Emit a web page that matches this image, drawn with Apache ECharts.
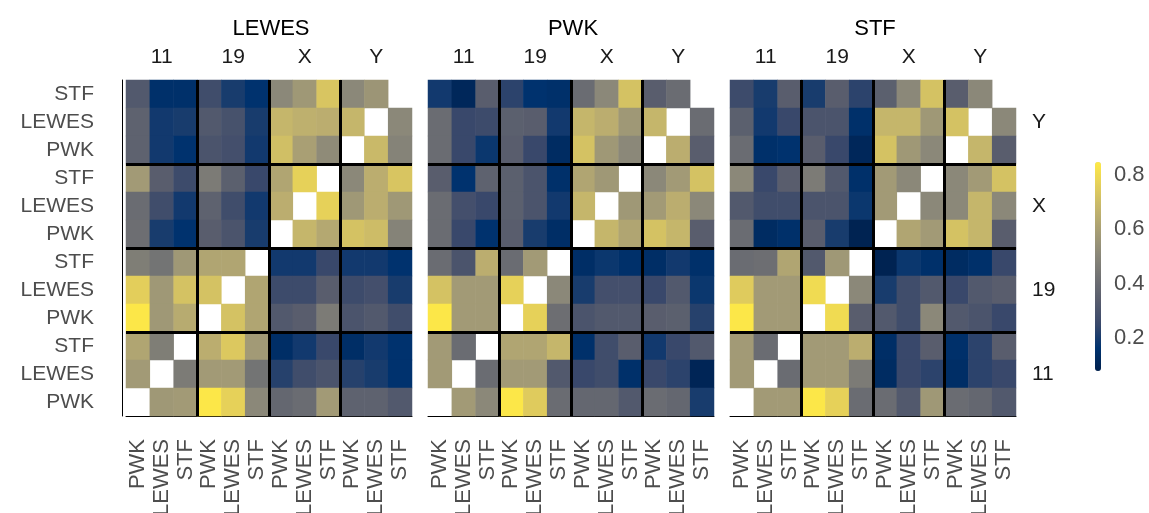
<!DOCTYPE html>
<html>
<head>
<meta charset="utf-8">
<title>Correlation heatmaps</title>
<script src="https://cdn.jsdelivr.net/npm/echarts@6/dist/echarts.min.js"></script>
<style>
  html, body { margin: 0; background: #ffffff; }
  #chart { width: 1149px; height: 513px; }
</style>
</head>
<body>
<div id="chart"></div>
<script>
const sites = ['PWK', 'LEWES', 'STF']
const groups = ['11', '19', 'X', 'Y']
const facets = ['LEWES', 'PWK', 'STF']
const colorTicks = [0.2, 0.4, 0.6, 0.8]
const cividis = ['#00204D', '#00336F', '#39486B', '#575C6D', '#707173',
    '#8A8779', '#A69D75', '#C4B56C', '#E4CF5B', '#FFEA46']

// rows top -> bottom (Y STF ... 11 PWK), columns left -> right (11 PWK ... Y STF)
const lewesRows = [
    [0.32, 0.15, 0.15, 0.27, 0.20, 0.16, 0.51, 0.57, 0.73, 0.51, 0.56, null],
    [0.36, 0.19, 0.20, 0.32, 0.29, 0.20, 0.68, 0.66, 0.65, 0.68, null, 0.51],
    [0.36, 0.19, 0.16, 0.30, 0.28, 0.19, 0.71, 0.60, 0.52, null, 0.69, 0.49],
    [0.58, 0.34, 0.26, 0.46, 0.35, 0.25, 0.62, 0.77, null, 0.51, 0.65, 0.73],
    [0.40, 0.27, 0.19, 0.36, 0.27, 0.19, 0.65, null, 0.77, 0.57, 0.65, 0.57],
    [0.41, 0.20, 0.16, 0.34, 0.30, 0.20, null, 0.68, 0.63, 0.72, 0.70, 0.49],
    [0.47, 0.43, 0.57, 0.62, 0.62, null, 0.19, 0.19, 0.25, 0.19, 0.19, 0.16],
    [0.76, 0.57, 0.72, 0.72, null, 0.62, 0.26, 0.26, 0.34, 0.26, 0.28, 0.20],
    [0.84, 0.57, 0.64, null, 0.72, 0.62, 0.32, 0.34, 0.46, 0.30, 0.32, 0.27],
    [0.62, 0.47, null, 0.65, 0.74, 0.58, 0.14, 0.19, 0.25, 0.14, 0.19, 0.16],
    [0.58, null, 0.46, 0.58, 0.58, 0.43, 0.22, 0.27, 0.30, 0.22, 0.20, 0.16],
    [null, 0.57, 0.58, 0.84, 0.77, 0.51, 0.38, 0.40, 0.58, 0.36, 0.36, 0.32]
]
const pwkRows = [
    [0.19, 0.11, 0.34, 0.23, 0.16, 0.15, 0.40, 0.51, 0.72, 0.34, 0.40, null],
    [0.40, 0.25, 0.26, 0.35, 0.34, 0.19, 0.68, 0.65, 0.57, 0.68, null, 0.40],
    [0.40, 0.25, 0.18, 0.34, 0.25, 0.13, 0.72, 0.57, 0.51, null, 0.65, 0.34],
    [0.34, 0.16, 0.36, 0.35, 0.30, 0.15, 0.62, 0.57, null, 0.51, 0.58, 0.72],
    [0.40, 0.28, 0.25, 0.35, 0.30, 0.19, 0.68, null, 0.57, 0.58, 0.65, 0.51],
    [0.40, 0.25, 0.16, 0.34, 0.20, 0.14, null, 0.68, 0.62, 0.72, 0.68, 0.34],
    [0.40, 0.30, 0.65, 0.40, 0.58, null, 0.14, 0.18, 0.15, 0.14, 0.19, 0.15],
    [0.72, 0.58, 0.58, 0.77, null, 0.51, 0.20, 0.28, 0.28, 0.25, 0.32, 0.18],
    [0.84, 0.58, 0.58, null, 0.77, 0.41, 0.30, 0.32, 0.32, 0.34, 0.35, 0.22],
    [0.58, 0.40, null, 0.62, 0.62, 0.68, 0.15, 0.27, 0.34, 0.19, 0.25, 0.32],
    [0.58, null, 0.40, 0.58, 0.58, 0.32, 0.25, 0.27, 0.15, 0.25, 0.23, 0.10],
    [null, 0.58, 0.51, 0.84, 0.75, 0.40, 0.38, 0.38, 0.32, 0.40, 0.38, 0.20]
]
const stfRows = [
    [0.26, 0.20, 0.34, 0.20, 0.34, 0.23, 0.35, 0.51, 0.72, 0.34, 0.51, null],
    [0.35, 0.19, 0.25, 0.30, 0.30, 0.15, 0.68, 0.68, 0.57, 0.72, null, 0.51],
    [0.40, 0.15, 0.16, 0.34, 0.25, 0.11, 0.72, 0.57, 0.51, null, 0.68, 0.34],
    [0.51, 0.25, 0.34, 0.46, 0.32, 0.15, 0.58, 0.51, null, 0.51, 0.58, 0.72],
    [0.32, 0.27, 0.27, 0.30, 0.30, 0.18, 0.58, null, 0.51, 0.51, 0.68, 0.51],
    [0.40, 0.13, 0.15, 0.34, 0.20, 0.09, null, 0.62, 0.58, 0.72, 0.68, 0.34],
    [0.40, 0.41, 0.62, 0.32, 0.57, null, 0.09, 0.18, 0.15, 0.13, 0.15, 0.25],
    [0.75, 0.58, 0.58, 0.80, null, 0.51, 0.20, 0.27, 0.32, 0.25, 0.32, 0.34],
    [0.84, 0.58, 0.58, null, 0.80, 0.34, 0.32, 0.27, 0.51, 0.32, 0.30, 0.25],
    [0.58, 0.40, null, 0.58, 0.58, 0.65, 0.14, 0.25, 0.34, 0.15, 0.23, 0.34],
    [0.58, null, 0.40, 0.58, 0.58, 0.46, 0.13, 0.25, 0.23, 0.14, 0.23, 0.25],
    [null, 0.58, 0.58, 0.84, 0.77, 0.40, 0.40, 0.32, 0.57, 0.40, 0.38, 0.32]
]

const panelRows = [lewesRows, pwkRows, stfRows]
// same order left->right on x and bottom->top on y
const cells = groups.flatMap(g => sites.map(s => g + ' ' + s))

const panelLeft = [126, 428, 730]
const panelWidth = 286
const panelTop = 80
const panelHeight = 336
const font = '"Liberation Sans", Arial, sans-serif'

function toHeatData(rows) {
    const out = []
    rows.forEach((row, r) => {
        row.forEach((v, c) => {
            if (v !== null) out.push([c, rows.length - 1 - r, v])
        })
    })
    return out
}

const grid = []
const xAxis = []
const yAxis = []
const series = []
const title = []

panelLeft.forEach((left, i) => {
    grid.push({
        left: left,
        top: panelTop,
        width: panelWidth,
        height: panelHeight,
        outerBoundsMode: 'none'
    })

    title.push({
        text: facets[i],
        left: left + panelWidth / 2 - 3,
        top: 13,
        textAlign: 'center',
        textStyle: { fontSize: 22, fontWeight: 'normal', color: '#000', fontFamily: font }
    })

    // cell axis at the bottom
    xAxis.push({
        type: 'category',
        gridIndex: i,
        data: cells,
        position: 'bottom',
        axisLine: { lineStyle: { color: '#000', width: 1 } },
        axisTick: { alignWithLabel: true, length: 7, lineStyle: { color: '#333' } },
        axisLabel: {
            rotate: 90,
            interval: 0,
            margin: 23,
            fontSize: 22,
            color: '#4d4d4d',
            fontFamily: font,
            formatter: v => v.split(' ')[1]
        },
        splitLine: { show: false }
    })
    // group axis at the top, its split lines are the thick separators
    xAxis.push({
        type: 'category',
        gridIndex: i,
        data: groups,
        position: 'top',
        z: 10,
        axisLine: { show: false },
        axisTick: { show: false },
        axisLabel: { margin: 12, fontSize: 21, color: '#1a1a1a', fontFamily: font },
        splitLine: {
            show: true,
            interval: 0,
            showMinLine: false,
            showMaxLine: false,
            lineStyle: { color: '#000', width: 3 }
        }
    })

    yAxis.push({
        type: 'category',
        gridIndex: i,
        data: cells,
        position: 'left',
        offset: 4,
        show: i === 0,
        axisLine: { lineStyle: { color: '#000', width: 1 } },
        axisTick: { alignWithLabel: true, length: 5, lineStyle: { color: '#333' } },
        axisLabel: {
            interval: 0,
            margin: 28,
            fontSize: 21,
            color: '#4d4d4d',
            fontFamily: font,
            formatter: v => v.split(' ')[1]
        },
        splitLine: { show: false }
    })
    yAxis.push({
        type: 'category',
        gridIndex: i,
        data: groups,
        position: 'right',
        z: 10,
        axisLine: { show: false },
        axisTick: { show: false },
        axisLabel: { show: i === 2, margin: 16, fontSize: 21, color: '#1a1a1a', fontFamily: font },
        splitLine: {
            show: true,
            interval: 0,
            showMinLine: false,
            showMaxLine: false,
            lineStyle: { color: '#000', width: 3 }
        }
    })

    series.push({
        type: 'heatmap',
        xAxisIndex: i * 2,
        yAxisIndex: i * 2,
        data: toHeatData(panelRows[i]),
        itemStyle: { borderWidth: 0 },
        emphasis: { disabled: true },
        progressive: 0
    })
})

// colour bar labels
grid.push({ left: 1095, top: 162, width: 6, height: 209, outerBoundsMode: 'none' })
xAxis.push({ type: 'value', gridIndex: 3, show: false })
yAxis.push({
    type: 'value',
    gridIndex: 3,
    min: 0.078,
    max: 0.848,
    position: 'right',
    axisLine: { show: false },
    axisTick: { show: false },
    splitLine: { show: false },
    axisLabel: {
        customValues: colorTicks,
        margin: 13,
        fontSize: 22,
        color: '#4d4d4d',
        fontFamily: font,
        formatter: v => v.toFixed(1)
    }
})

const chart = echarts.init(document.getElementById('chart'))
chart.setOption({
    animation: false,
    backgroundColor: '#ffffff',
    textStyle: { fontFamily: font },
    title: title,
    grid: grid,
    xAxis: xAxis,
    yAxis: yAxis,
    visualMap: {
        type: 'continuous',
        min: 0.078,
        max: 0.848,
        seriesIndex: [0, 1, 2],
        calculable: false,
        left: 1095,
        top: 162,
        padding: 0,
        itemWidth: 6,
        itemHeight: 209,
        text: null,
        inRange: { color: cividis }
    },
    series: series
})
</script>
</body>
</html>
